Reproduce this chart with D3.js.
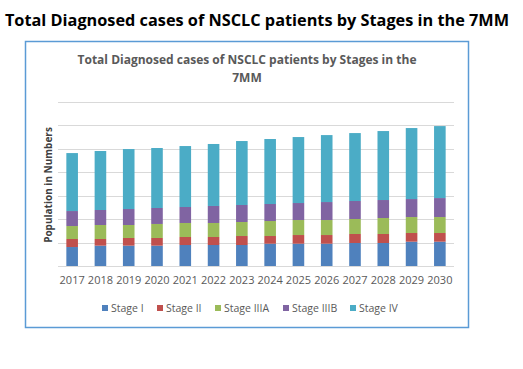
<!DOCTYPE html>
<html>
<head>
<meta charset="utf-8">
<script src="https://cdn.jsdelivr.net/npm/d3@7"></script>
<style>
  body { margin: 0; background: #fff; }
  svg { display: block; font-family: "Open Sans", "Liberation Sans", sans-serif; }
</style>
</head>
<body>
<div id="chart"></div>
<script>
// values in thousands (approx)
let years = ["2017","2018","2019","2020","2021","2022","2023","2024","2025","2026","2027","2028","2029","2030"];
let stages = ["Stage I", "Stage II", "Stage IIIA", "Stage IIIB", "Stage IV"];
let stageI   = [40.5, 43.4, 43.4, 43.4, 44.8, 44.8, 44.8, 47.6, 47.6, 47.6, 49.1, 49.1, 51.9, 51.9];
let stageII  = [17.1, 14.2, 16.4, 16.4, 17.1, 17.1, 19.2, 16.4, 18.5, 18.5, 19.2, 19.2, 18.5, 18.5];
let stageIIIA = [27.7, 29.9, 27.7, 29.9, 29.9, 29.9, 29.9, 32.0, 32.0, 32.0, 32.0, 34.1, 34.1, 34.1];
let stageIIIB = [32.0, 32.0, 34.1, 34.1, 34.1, 36.3, 36.3, 36.3, 36.3, 38.4, 38.4, 38.4, 38.4, 40.5];
let stageIV  = [123.7, 125.9, 128.0, 128.0, 130.1, 132.3, 136.5, 138.7, 140.8, 142.9, 145.0, 147.2, 151.5, 153.6];
let colors = ["#4F81BD", "#C0504D", "#9BBB59", "#8064A2", "#4BACC6"];
let yTicks = [0, 50, 100, 150, 200, 250, 300, 350];

let width = 523, height = 369;
let svg = d3.select("#chart").append("svg")
    .attr("width", width)
    .attr("height", height);

// outer heading
svg.append("text")
    .attr("x", 257)
    .attr("y", 26)
    .attr("text-anchor", "middle")
    .style("font-size", "16.3px")
    .style("font-weight", "bold")
    .attr("fill", "#000")
    .text("Total Diagnosed cases of NSCLC patients by Stages in the 7MM");

// chart frame
svg.append("rect")
    .attr("x", 25.5)
    .attr("y", 41.5)
    .attr("width", 443)
    .attr("height", 286)
    .attr("fill", "#fff")
    .attr("stroke", "#5B9BD5")
    .attr("stroke-width", 1.5);

svg.append("text")
    .attr("x", 247)
    .attr("y", 64)
    .attr("text-anchor", "middle")
    .style("font-size", "12px")
    .style("font-weight", "bold")
    .attr("fill", "#595959")
    .text("Total Diagnosed cases of NSCLC patients by Stages in the");
svg.append("text")
    .attr("x", 247)
    .attr("y", 82)
    .attr("text-anchor", "middle")
    .style("font-size", "12px")
    .style("font-weight", "bold")
    .attr("fill", "#595959")
    .text("7MM");

let x = d3.scaleBand().domain(years).range([58, 454]).paddingInner(0.59).paddingOuter(0.295);
let y = d3.scaleLinear().domain([0, 350]).range([266, 102]);

// gridlines
svg.append("g")
    .selectAll("line")
    .data(yTicks)
    .enter()
    .append("line")
    .attr("x1", 58)
    .attr("x2", 454)
    .attr("y1", d => Math.round(y(d)) + 0.5)
    .attr("y2", d => Math.round(y(d)) + 0.5)
    .attr("stroke", "#D9D9D9")
    .attr("stroke-width", 1);

let table = years.map((yr, i) => ({
    year: yr,
    "Stage I": stageI[i],
    "Stage II": stageII[i],
    "Stage IIIA": stageIIIA[i],
    "Stage IIIB": stageIIIB[i],
    "Stage IV": stageIV[i]
}));
let stacked = d3.stack().keys(stages)(table);

svg.append("g")
    .selectAll("g")
    .data(stacked)
    .enter()
    .append("g")
    .attr("fill", (d, i) => colors[i])
    .selectAll("rect")
    .data(d => d)
    .enter()
    .append("rect")
    .attr("x", d => x(d.data.year))
    .attr("width", x.bandwidth())
    .attr("y", d => y(d[1]))
    .attr("height", d => y(d[0]) - y(d[1]));

// x axis labels
let xAxis = d3.axisBottom(x).tickSize(0).tickPadding(0);
let gx = svg.append("g")
    .attr("transform", "translate(0,276)")
    .call(xAxis);
gx.select(".domain").remove();
gx.selectAll("text")
    .attr("fill", "#595959")
    .style("font-size", "11px")
    .style("font-family", "\"Open Sans\", \"Liberation Sans\", sans-serif");

// y axis title
svg.append("text")
    .attr("transform", "translate(52,185) rotate(-90)")
    .attr("text-anchor", "middle")
    .style("font-size", "10px")
    .style("font-weight", "bold")
    .attr("fill", "#404040")
    .text("Population  in Numbers");

// legend
let legendX = [102, 157, 215, 283, 350];
let legend = svg.append("g");
stages.forEach((s, i) => {
    legend.append("rect")
        .attr("x", legendX[i])
        .attr("y", 305)
        .attr("width", 6)
        .attr("height", 6)
        .attr("fill", colors[i]);
    legend.append("text")
        .attr("x", legendX[i] + 9)
        .attr("y", 312)
        .style("font-size", "10.5px")
        .attr("fill", "#595959")
        .text(s);
});
</script>
</body>
</html>
